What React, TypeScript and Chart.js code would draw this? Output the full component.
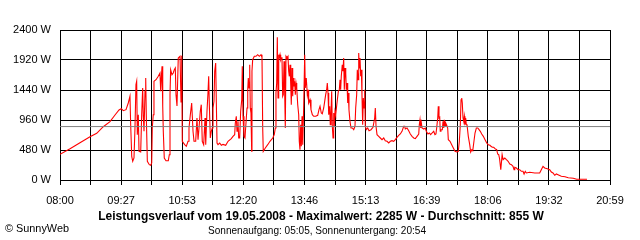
import React, { useEffect, useRef } from 'react';
import { Chart, registerables } from 'chart.js';

Chart.register(...registerables);

// Time of day in minutes since midnight, and power in watts
const times: number[] = [
  480.0, 494.2, 508.3, 522.5, 532.0, 541.3, 550.8, 557.9, 563.6, 566.8,
  569.7, 573.5, 576.7, 579.1, 580.1, 581.6, 583.0, 584.8, 586.2, 587.6,
  588.6, 589.5, 590.9, 591.9, 594.3, 595.7, 597.1, 598.0, 599.0, 600.4,
  601.4, 602.2, 603.7, 606.5, 608.5, 609.9, 610.7, 612.1, 613.1, 616.0,
  619.2, 621.6, 622.6, 623.5, 624.5, 625.5, 626.3, 627.7, 630.1, 633.4,
  634.8, 635.8, 636.7, 638.6, 640.4, 641.9, 643.3, 644.3, 645.7, 647.5,
  650.0, 651.4, 652.4, 653.2, 656.6, 658.9, 661.3, 662.7, 664.6, 666.5,
  667.4, 668.4, 669.8, 672.2, 674.0, 675.5, 676.9, 678.7, 680.1, 681.5,
  683.5, 685.4, 686.4, 688.2, 689.6, 690.6, 691.5, 692.9, 694.3, 695.7,
  696.7, 698.1, 699.1, 700.5, 701.4, 702.4, 703.8, 706.2, 708.5, 710.9,
  714.7, 718.0, 722.6, 725.0, 727.4, 728.3, 729.7, 730.7, 732.1, 733.1,
  734.5, 735.9, 737.4, 738.2, 739.2, 740.6, 742.0, 743.9, 744.9, 745.9,
  746.7, 747.7, 748.7, 749.5, 750.5, 751.5, 751.9, 752.9, 755.2, 757.6,
  760.0, 762.3, 764.7, 766.1, 767.1, 767.9, 770.8, 774.2, 777.4, 781.3,
  783.5, 785.0, 785.9, 786.9, 787.8, 788.8, 789.8, 790.6, 791.6, 792.6,
  793.4, 794.4, 795.4, 796.3, 797.3, 798.3, 799.1, 800.1, 801.5, 802.9,
  803.9, 804.8, 805.8, 806.8, 807.6, 808.6, 809.6, 810.4, 811.4, 812.4,
  813.3, 814.3, 815.3, 816.7, 818.1, 818.9, 819.9, 820.9, 821.8, 822.8,
  823.8, 825.2, 826.6, 827.4, 828.8, 830.3, 831.3, 832.2, 834.1, 835.5,
  837.4, 839.3, 842.2, 845.0, 846.8, 848.3, 850.1, 851.5, 853.5, 854.9,
  856.3, 857.7, 858.6, 859.6, 860.6, 862.0, 862.8, 863.8, 864.8, 865.7,
  866.7, 867.7, 868.5, 869.5, 870.5, 872.3, 874.2, 875.6, 876.6, 877.5,
  878.4, 879.8, 880.8, 881.8, 882.7, 883.7, 884.7, 885.5, 886.5, 887.5,
  888.3, 889.3, 890.7, 892.2, 894.0, 896.0, 897.8, 898.8, 900.2, 901.1,
  902.1, 903.1, 903.9, 904.9, 905.9, 906.8, 907.7, 908.7, 909.6, 910.6,
  911.6, 912.4, 913.8, 915.8, 917.7, 920.5, 923.3, 925.7, 926.6, 927.6,
  929.0, 931.4, 933.7, 936.1, 938.5, 940.7, 943.2, 945.6, 947.8, 950.2,
  952.6, 954.9, 957.3, 959.7, 962.0, 964.4, 966.8, 968.2, 969.1, 971.5,
  973.9, 976.2, 978.6, 981.0, 983.2, 985.7, 988.1, 988.9, 989.9, 990.9,
  991.8, 992.8, 995.2, 997.4, 998.8, 1001.2, 1003.1, 1005.0, 1006.9, 1009.3,
  1011.1, 1012.5, 1013.5, 1015.0, 1015.8, 1016.8, 1017.8, 1018.6, 1019.6, 1021.5,
  1022.5, 1023.5, 1024.3, 1025.3, 1026.3, 1027.7, 1029.1, 1030.0, 1032.4, 1034.8,
  1037.1, 1039.5, 1041.9, 1044.1, 1045.6, 1047.0, 1048.0, 1049.0, 1049.8, 1050.8,
  1051.8, 1052.7, 1053.6, 1054.6, 1055.5, 1056.5, 1058.3, 1060.3, 1061.7, 1063.2,
  1064.6, 1066.0, 1067.8, 1069.7, 1071.7, 1073.5, 1075.3, 1077.3, 1079.6, 1082.0,
  1084.4, 1086.6, 1089.0, 1090.4, 1092.3, 1094.3, 1096.1, 1098.5, 1099.9, 1101.4,
  1102.6, 1104.3, 1106.2, 1107.6, 1110.0, 1112.3, 1114.7, 1117.1, 1119.4, 1121.6,
  1123.1, 1124.1, 1126.4, 1128.8, 1131.2, 1133.4, 1135.8, 1137.3, 1139.0, 1140.5,
  1145.3, 1152.4, 1159.4, 1161.7, 1164.1, 1166.5, 1170.2, 1173.6, 1175.9, 1178.3,
  1180.7, 1183.0, 1185.4, 1190.0, 1195.3, 1199.9, 1207.0, 1211.8, 1221.2, 1226.4,
];

const watts: number[] = [
  410, 500, 597, 693, 747, 853, 933, 1040, 1120, 1141,
  1109, 1125, 1232, 1339, 885, 379, 299, 352, 832, 1525,
  1579, 725, 1045, 459, 448, 1045, 1472, 1019, 779, 1419,
  1632, 1045, 299, 245, 235, 272, 832, 1045, 1579, 1605,
  1659, 1712, 1419, 1632, 1819, 1179, 779, 352, 309, 309,
  405, 1365, 1765, 1685, 1712, 1765, 1792, 1365, 1184, 1952,
  1979, 1250, 1990, 620, 565, 539, 619, 832, 1045, 1232,
  1019, 779, 619, 619, 992, 645, 832, 1099, 1205, 619,
  565, 992, 565, 1099, 1392, 1659, 1205, 672, 779, 832,
  1152, 1259, 1739, 1872, 1259, 592, 565, 592, 555, 570,
  555, 619, 661, 699, 725, 912, 1019, 779, 939, 672,
  672, 1099, 1285, 1820, 1019, 699, 672, 992, 1152, 1445,
  1632, 1472, 1845, 1152, 1072, 459, 1739, 1925, 1979, 1979,
  2005, 1979, 2005, 1963, 832, 459, 512, 565, 619, 672,
  725, 832, 1392, 1552, 2285, 1312, 2005, 1952, 2005, 1925,
  1952, 1963, 1339, 1365, 1899, 1365, 832, 1979, 1952, 1979,
  1739, 1659, 1845, 1525, 1205, 1792, 1339, 1632, 1499, 1579,
  1365, 1552, 1472, 1205, 1045, 619, 485, 885, 539, 1019,
  565, 1205, 2005, 1472, 1632, 1365, 1445, 1232, 1285, 1125,
  1045, 1019, 1019, 1035, 1125, 1179, 1072, 1059, 1152, 1259,
  1365, 1445, 1552, 1392, 1045, 1179, 885, 1045, 1419, 859,
  672, 1072, 859, 1099, 1045, 1232, 1419, 1445, 1605, 1445,
  1659, 1845, 1739, 1952, 1445, 1792, 1712, 1445, 1552, 1232,
  1392, 1125, 939, 832, 832, 805, 859, 1152, 1365, 1765,
  1605, 2032, 1792, 1952, 1659, 1765, 1365, 885, 1312, 1152,
  1445, 859, 805, 832, 789, 805, 843, 992, 1152, 859,
  725, 699, 672, 645, 672, 629, 619, 592, 619, 629,
  619, 645, 683, 715, 736, 779, 859, 859, 816, 832,
  789, 736, 699, 672, 661, 699, 736, 885, 965, 832,
  912, 832, 816, 832, 779, 736, 752, 725, 752, 779,
  725, 736, 832, 992, 1179, 992, 1003, 779, 805, 805,
  939, 832, 965, 859, 912, 875, 832, 645, 619, 565,
  512, 459, 448, 459, 619, 885, 1285, 1312, 1232, 992,
  939, 1019, 885, 992, 885, 885, 699, 565, 448, 485,
  469, 592, 752, 832, 832, 805, 779, 736, 699, 645,
  592, 565, 555, 539, 523, 523, 501, 485, 416, 405,
  340, 165, 405, 325, 352, 325, 299, 256, 245, 219,
  165, 203, 192, 165, 165, 139, 139, 96, 139, 112,
  123, 112, 112, 165, 219, 192, 181, 165, 128, 112,
  75, 96, 85, 59, 53, 37, 27, 11, 11, 11,
];

const average = 855;
const yTickValues = [0, 480, 960, 1440, 1920, 2400];
const xTickLabels = ['08:00', '09:27', '10:53', '12:20', '13:46', '15:13', '16:39', '18:06', '19:32', '20:59'];
const startMinute = 480;
const endMinute = 1259;
const titleText = 'Leistungsverlauf vom 19.05.2008 - Maximalwert: 2285 W - Durchschnitt: 855 W';
const subtitleText = 'Sonnenaufgang: 05:05, Sonnenuntergang: 20:54';
const creditText = '\u00A9 SunnyWeb';

const FONT = '"Liberation Sans", Arial, sans-serif';

export default function App() {
  const ref = useRef<HTMLCanvasElement | null>(null);

  useEffect(() => {
    if (!ref.current) return;
    const textPlugin = {
      id: 'texts',
      afterDraw(chart: any) {
        const ctx = chart.ctx;
        ctx.save();
        ctx.fillStyle = '#000';
        ctx.textBaseline = 'middle';
        ctx.textAlign = 'center';
        ctx.font = `bold 12px ${FONT}`;
        ctx.fillText(titleText, 321, 217, 448);
        ctx.font = `11px ${FONT}`;
        ctx.fillText(subtitleText, 317, 231, 218);
        ctx.textAlign = 'left';
        ctx.fillText(creditText, 5, 229, 64);
        ctx.restore();
      },
    };

    const nX = (xTickLabels.length - 1) * 2;
    const chart = new Chart(ref.current, {
      type: 'line',
      data: {
        datasets: [
          {
            label: 'Durchschnitt',
            data: [
              { x: startMinute, y: average },
              { x: endMinute, y: average },
            ],
            borderColor: '#808080',
            borderWidth: 1,
            pointRadius: 0,
          },
          {
            label: 'Leistung',
            data: times.map((t, i) => ({ x: t, y: watts[i] })),
            borderColor: '#ff0000',
            borderWidth: 1.1,
            pointRadius: 0,
            tension: 0,
          },
        ],
      },
      options: {
        responsive: false,
        animation: false,
        events: [],
        layout: { padding: { top: 30, right: 30, left: 0, bottom: 0 } },
        plugins: { legend: { display: false }, tooltip: { enabled: false }, title: { display: false } },
        scales: {
          x: {
            type: 'linear',
            min: startMinute,
            max: endMinute,
            afterBuildTicks: (s: any) => {
              s.ticks = Array.from({ length: nX + 1 }, (_, i) => ({
                value: startMinute + (i * (endMinute - startMinute)) / nX,
              }));
            },
            afterFit: (s: any) => {
              s.height = 60;
            },
            ticks: {
              autoSkip: false,
              maxRotation: 0,
              minRotation: 0,
              padding: 9,
              color: '#000',
              font: { family: FONT, size: 11 },
              callback: (_v: any, i: number) => (i % 2 === 0 ? xTickLabels[i / 2] : ''),
            },
            grid: { color: '#000', lineWidth: 1, drawTicks: true, tickLength: 5, tickColor: '#000' },
            border: { color: '#000', width: 1 },
          },
          y: {
            min: 0,
            max: 2400,
            afterBuildTicks: (s: any) => {
              s.ticks = yTickValues.map((v) => ({ value: v }));
            },
            afterFit: (s: any) => {
              s.width = 60;
            },
            ticks: {
              padding: 9,
              color: '#000',
              font: { family: FONT, size: 11 },
              callback: (v: any) => `${v} W`,
            },
            grid: { color: '#000', lineWidth: 1, drawTicks: false },
            border: { color: '#000', width: 1 },
          },
        },
      },
      plugins: [textPlugin],
    });
    return () => chart.destroy();
  }, []);

  return (
    <div style={{ position: 'absolute', left: 0, top: 0, width: 640, height: 240, background: '#fff' }}>
      <canvas ref={ref} width={640} height={240} style={{ display: 'block', width: 640, height: 240 }} />
    </div>
  );
}
